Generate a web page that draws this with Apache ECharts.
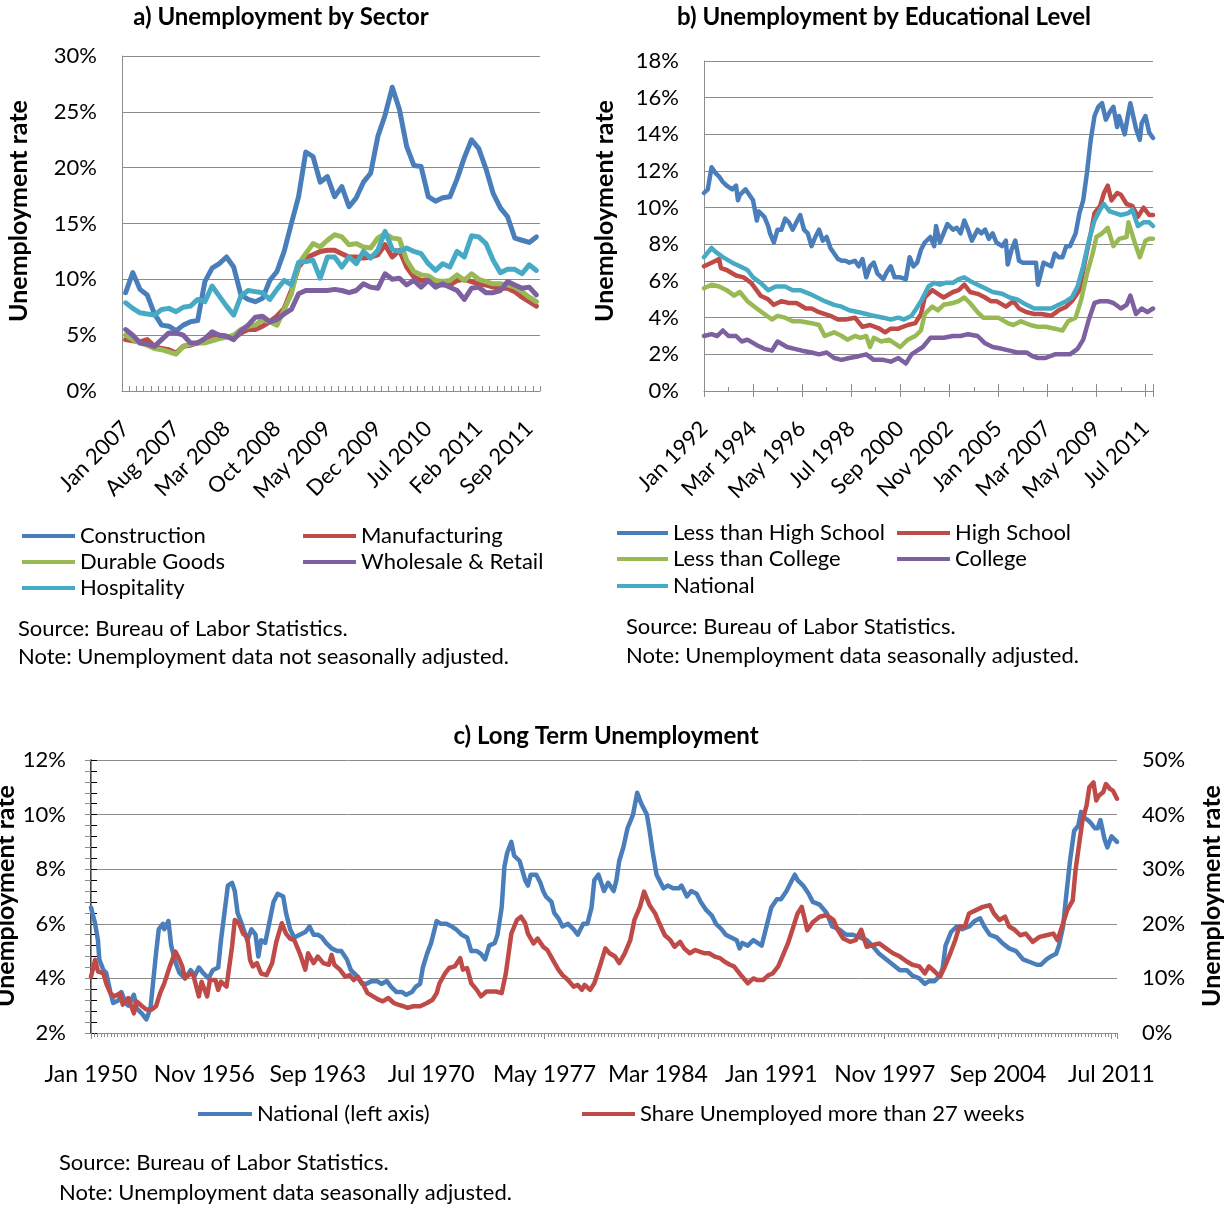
<!DOCTYPE html>
<html><head><meta charset="utf-8">
<script src="https://cdn.jsdelivr.net/npm/echarts@6.0.0/dist/echarts.min.js"></script>
<style>html,body{margin:0;padding:0;background:#fff}#c{width:1227px;height:1207px}</style>
</head><body><div id="c"></div><script>
// ---------- Panel a: Unemployment by Sector (monthly, Jan 2007 - Oct 2011) ----------
const monthNames = ['Jan','Feb','Mar','Apr','May','Jun','Jul','Aug','Sep','Oct','Nov','Dec'];
const sectorMonths = [];
for (let k = 0; k < 58; k++) sectorMonths.push(monthNames[k % 12] + ' ' + (2007 + Math.floor(k / 12)));

const construction = [8.8,10.6,9.1,8.6,6.9,5.9,5.8,5.4,5.9,6.2, 6.3,9.8,11.0,11.4,12.0,11.1,8.6,8.2,8.0,8.3, 9.9,10.7,12.5,15.0,17.4,21.4,21.0,18.7,19.2,17.4, 18.3,16.5,17.3,18.7,19.5,22.8,24.7,27.2,25.2,21.9, 20.2,20.1,17.4,17.0,17.3,17.4,19.0,20.9,22.5,21.7, 19.9,17.7,16.4,15.6,13.7,13.5,13.3,13.8];
const manufacturing = [4.6,4.5,4.4,4.6,4.0,3.8,3.7,3.4,4.0,4.1, 4.3,4.6,5.0,5.0,4.9,4.7,5.2,5.5,5.5,5.8, 6.2,6.7,7.4,9.0,11.1,11.9,12.2,12.5,12.6,12.6, 12.3,12.0,12.0,11.9,12.0,12.2,13.1,12.0,12.6,11.1, 10.2,9.9,9.9,9.6,9.5,9.5,9.9,10.0,9.8,9.6, 9.5,9.3,9.2,9.2,8.9,8.4,8.0,7.6];
const durableGoods = [5.0,4.6,4.3,4.1,3.8,3.7,3.5,3.3,4.0,4.2, 4.3,4.3,4.5,4.7,4.8,5.0,5.5,5.8,5.9,6.4, 6.2,5.9,7.3,8.7,11.4,12.3,13.2,12.9,13.5,14.0, 13.8,13.1,13.2,12.9,12.8,13.7,14.1,13.7,13.6,11.7, 10.7,10.4,10.3,9.9,9.8,9.9,10.4,9.9,10.5,10.0, 9.8,9.6,9.6,9.5,9.3,8.9,8.4,8.0];
const wholesaleRetail = [5.5,5.0,4.3,4.2,4.0,4.6,5.2,5.2,5.0,4.3, 4.3,4.7,5.3,5.0,4.9,4.6,5.4,5.9,6.6,6.7, 6.2,6.4,6.9,7.3,8.7,9.0,9.0,9.0,9.0,9.1, 9.0,8.8,9.0,9.6,9.3,9.2,10.5,10.0,10.1,9.5, 9.9,9.3,9.9,9.3,9.6,9.3,9.0,8.2,9.2,9.3, 8.8,8.8,9.0,9.8,9.5,9.2,9.3,8.6];
const hospitality = [7.9,7.4,7.0,6.9,6.8,7.3,7.4,7.1,7.5,7.6, 8.2,8.0,9.4,8.5,7.6,6.8,8.5,9.0,8.9,8.8, 8.2,9.1,9.9,9.5,11.5,11.6,11.7,10.1,12.0,12.0, 11.1,12.0,11.4,12.5,11.9,12.6,14.3,12.7,12.5,12.8, 12.5,12.3,11.4,10.8,11.4,11.1,12.5,12.0,13.9,13.8, 13.2,11.7,10.6,10.9,10.9,10.5,11.3,10.8];

// ---------- Panel b: by Educational Level ([month index from Jan 1992, rate]) ----------
const eduTickLabels = ['Jan 1992','Mar 1994','May 1996','Jul 1998','Sep 2000','Nov 2002','Jan 2005','Mar 2007','May 2009','Jul 2011'];
const lessThanHS = [[0,10.8],[2,11.0],[3,10.9],[4,12.2],[6,11.9],[8,11.7],[10,11.4],[12,11.2],[15,11.0],[17,11.2],[18,10.4],[19,10.7],[22,11.0],[24,10.7],[26,10.4],[28,9.3],[29,9.8],[32,9.5],[34,9.0],[35,8.6],[37,8.1],[39,8.8],[41,8.8],[43,9.4],[45,9.2],[47,8.8],[49,9.2],[51,9.6],[53,8.8],[55,8.6],[57,7.9],[59,8.4],[61,8.8],[63,8.2],[65,8.4],[67,7.8],[69,7.5],[71,7.2],[73,7.1],[75,7.1],[77,7.0],[80,7.1],[82,6.8],[84,7.2],[86,6.2],[88,6.8],[90,7.0],[92,6.4],[95,6.1],[97,6.5],[99,6.8],[101,6.2],[102,6.3],[104,6.2],[107,6.1],[109,7.3],[111,6.8],[113,7.0],[115,7.7],[117,8.1],[120,8.4],[122,7.9],[123,9.0],[125,8.1],[127,8.6],[129,9.1],[132,8.8],[134,8.9],[136,8.6],[138,9.3],[140,8.8],[142,8.2],[145,8.8],[147,8.6],[149,8.8],[151,8.3],[153,8.6],[155,8.1],[158,7.9],[160,8.2],[161,6.9],[163,7.7],[165,8.2],[167,7.1],[169,7.0],[172,7.0],[174,7.0],[176,7.0],[177,5.8],[180,7.0],[181,7.1],[184,6.8],[186,7.5],[188,7.3],[190,7.3],[192,7.9],[194,7.9],[197,8.6],[199,9.7],[201,10.4],[203,11.9],[205,13.7],[207,15.0],[209,15.5],[211,15.7],[213,14.8],[215,15.2],[217,15.5],[219,14.4],[220,15.0],[223,14.0],[225,15.2],[226,15.7],[229,14.3],[231,13.7],[232,14.6],[234,15.0],[236,14.1],[238,13.8]];
const highSchool = [[0,6.8],[4,7.0],[8,7.2],[9,6.7],[12,6.6],[17,6.3],[21,6.2],[25,5.9],[30,5.2],[34,5.0],[37,4.7],[41,4.9],[45,4.8],[49,4.8],[54,4.5],[57,4.5],[61,4.3],[67,4.1],[71,3.9],[75,3.9],[80,4.0],[84,3.5],[88,3.6],[93,3.4],[96,3.2],[99,3.4],[103,3.4],[108,3.6],[112,3.7],[115,4.2],[117,5.1],[121,5.5],[124,5.3],[127,5.1],[132,5.4],[135,5.5],[138,5.8],[141,5.4],[145,5.3],[149,5.1],[152,4.9],[155,4.9],[160,4.6],[164,4.9],[167,4.5],[171,4.3],[175,4.2],[179,4.2],[184,4.1],[188,4.4],[192,4.6],[195,4.9],[199,5.5],[202,7.1],[205,8.6],[207,9.7],[210,10.1],[212,10.8],[214,11.2],[216,10.4],[219,10.8],[221,10.7],[224,10.2],[227,10.1],[230,9.5],[233,10.0],[236,9.6],[238,9.6]];
const lessThanCollege = [[0,5.6],[4,5.8],[8,5.7],[12,5.5],[16,5.2],[19,5.4],[23,4.9],[28,4.5],[32,4.2],[36,3.9],[39,4.1],[43,4.0],[47,3.8],[51,3.8],[57,3.7],[61,3.6],[64,3.0],[69,3.2],[73,3.0],[76,2.8],[80,3.0],[83,2.9],[86,3.0],[88,2.4],[90,2.9],[94,2.7],[98,2.8],[101,2.6],[104,2.4],[108,2.8],[112,3.0],[115,3.3],[117,4.2],[121,4.6],[124,4.4],[127,4.7],[132,4.8],[135,4.9],[138,5.1],[141,4.8],[145,4.3],[148,4.0],[152,4.0],[156,4.0],[161,3.7],[164,3.6],[168,3.8],[173,3.6],[177,3.5],[181,3.5],[186,3.4],[190,3.3],[193,3.8],[197,4.0],[200,5.0],[203,6.4],[206,7.5],[208,8.4],[211,8.6],[214,8.9],[217,7.9],[220,8.3],[224,8.4],[225,9.2],[228,8.2],[231,7.3],[234,8.2],[236,8.3],[238,8.3]];
const college = [[0,3.0],[4,3.1],[7,3.0],[10,3.3],[13,3.0],[17,3.0],[20,2.7],[23,2.8],[28,2.5],[32,2.3],[36,2.2],[39,2.7],[44,2.4],[48,2.3],[52,2.2],[57,2.1],[61,2.0],[65,2.1],[69,1.8],[73,1.7],[77,1.8],[82,1.9],[86,2.0],[90,1.7],[95,1.7],[99,1.6],[103,1.8],[107,1.5],[110,2.0],[113,2.2],[116,2.4],[120,2.9],[123,2.9],[127,2.9],[132,3.0],[136,3.0],[140,3.1],[145,3.0],[149,2.6],[153,2.4],[158,2.3],[162,2.2],[166,2.1],[171,2.1],[174,1.9],[177,1.8],[181,1.8],[186,2.0],[190,2.0],[194,2.0],[198,2.3],[201,2.8],[204,3.9],[207,4.8],[210,4.9],[214,4.9],[217,4.8],[221,4.5],[224,4.7],[226,5.2],[229,4.2],[232,4.5],[235,4.3],[238,4.5]];
const nationalEdu = [[0,7.3],[4,7.8],[6,7.6],[10,7.3],[15,7.0],[19,6.8],[23,6.6],[26,6.2],[30,5.9],[34,5.5],[38,5.7],[43,5.7],[47,5.5],[51,5.5],[56,5.3],[60,5.1],[64,4.9],[69,4.7],[73,4.6],[77,4.4],[82,4.3],[86,4.2],[90,4.1],[95,4.0],[99,3.9],[103,4.0],[106,3.9],[110,4.1],[112,4.4],[115,4.9],[119,5.7],[122,5.9],[125,5.8],[128,5.9],[132,5.9],[135,6.1],[138,6.2],[141,6.0],[145,5.8],[149,5.6],[153,5.4],[158,5.3],[162,5.1],[166,5.0],[171,4.7],[175,4.5],[179,4.5],[184,4.5],[188,4.7],[192,4.9],[195,5.1],[198,5.7],[201,6.8],[204,8.2],[207,9.3],[210,9.9],[212,10.2],[215,9.8],[218,9.7],[221,9.6],[225,9.7],[227,9.9],[230,9.0],[233,9.2],[236,9.2],[238,9.0]];

// ---------- Panel c: Long Term Unemployment ([month index from Jan 1950, rate]) ----------
const ltTickLabels = ['Jan 1950','Nov 1956','Sep 1963','Jul 1970','May 1977','Mar 1984','Jan 1991','Nov 1997','Sep 2004','Jul 2011'];
const nationalLT = [[0,6.6],[3,6.0],[5,5.4],[6,4.7],[9,4.3],[11,4.2],[14,3.5],[16,3.1],[20,3.2],[22,3.5],[25,3.1],[27,3.0],[31,3.4],[33,2.9],[37,2.7],[40,2.5],[43,2.9],[45,3.9],[47,4.9],[49,5.8],[52,6.0],[53,5.8],[56,6.1],[58,5.2],[61,4.6],[64,4.2],[68,4.0],[72,4.3],[75,4.1],[78,4.4],[81,4.2],[85,4.0],[88,4.3],[92,4.4],[94,5.4],[97,6.6],[99,7.4],[102,7.5],[104,7.2],[106,6.4],[109,6.0],[113,5.4],[116,5.8],[119,5.6],[121,4.8],[123,5.4],[126,5.3],[128,5.8],[132,6.8],[135,7.1],[139,7.0],[141,6.4],[144,5.8],[147,5.5],[151,5.6],[155,5.7],[158,5.9],[161,5.6],[164,5.6],[167,5.5],[170,5.3],[174,5.1],[178,5.0],[181,5.0],[185,4.7],[188,4.3],[192,4.1],[196,3.8],[199,3.8],[203,3.9],[207,3.9],[210,3.8],[214,3.9],[217,3.7],[221,3.5],[225,3.5],[228,3.4],[232,3.5],[235,3.7],[238,3.8],[240,4.4],[243,4.9],[246,5.3],[250,6.1],[253,6.0],[257,6.0],[261,5.9],[264,5.8],[268,5.6],[272,5.5],[275,5.0],[279,5.0],[282,4.9],[285,4.7],[288,5.2],[292,5.3],[294,5.6],[297,6.6],[299,8.1],[301,8.6],[304,9.0],[306,8.5],[310,8.3],[314,7.6],[316,7.4],[318,7.8],[322,7.8],[325,7.5],[327,7.2],[329,7.0],[333,6.8],[335,6.4],[338,6.2],[341,5.9],[345,6.0],[349,5.8],[352,5.6],[356,6.0],[359,6.0],[362,6.6],[364,7.6],[367,7.8],[369,7.5],[371,7.2],[374,7.5],[378,7.2],[380,7.6],[382,8.3],[385,8.8],[388,9.5],[392,10.0],[395,10.8],[398,10.4],[402,10.0],[404,9.4],[406,8.7],[409,7.8],[411,7.6],[414,7.3],[417,7.4],[421,7.3],[425,7.3],[427,7.4],[431,7.0],[434,7.2],[438,7.1],[441,6.8],[445,6.5],[449,6.3],[452,6.0],[456,5.8],[459,5.6],[463,5.5],[467,5.4],[469,5.1],[471,5.3],[475,5.2],[479,5.4],[482,5.3],[485,5.2],[487,5.6],[490,6.2],[492,6.6],[496,6.9],[499,6.9],[503,7.2],[506,7.5],[509,7.8],[511,7.6],[515,7.4],[519,7.1],[522,6.8],[527,6.7],[532,6.4],[536,5.9],[541,5.8],[546,5.6],[551,5.6],[556,5.5],[561,5.4],[565,5.2],[570,4.9],[575,4.7],[580,4.5],[585,4.3],[590,4.3],[594,4.1],[599,4.0],[603,3.8],[606,3.9],[610,3.9],[614,4.1],[616,4.4],[618,5.2],[622,5.7],[626,5.9],[630,5.8],[635,5.9],[639,6.1],[643,6.2],[646,5.9],[650,5.6],[655,5.5],[659,5.3],[664,5.1],[669,5.0],[674,4.7],[679,4.6],[684,4.5],[687,4.5],[691,4.7],[694,4.8],[698,4.9],[700,5.2],[703,5.9],[705,6.9],[708,8.3],[711,9.4],[714,9.6],[716,10.1],[718,9.9],[721,9.8],[723,9.7],[726,9.5],[728,9.5],[730,9.8],[733,9.1],[735,8.8],[738,9.2],[742,9.0]];
const shareLT = [[0,10.3],[3,13.4],[5,11.3],[9,10.9],[11,9.1],[14,7.3],[17,6.7],[21,7.3],[23,5.2],[27,6.4],[31,3.6],[33,5.8],[37,4.9],[40,4.3],[44,4.3],[47,4.9],[50,7.3],[53,9.1],[57,12.2],[61,14.9],[63,14.0],[66,12.2],[68,10.0],[72,10.9],[74,10.6],[78,6.7],[80,9.4],[84,6.7],[86,9.7],[90,9.7],[92,7.9],[94,9.4],[98,8.5],[102,15.8],[104,20.7],[107,20.1],[110,18.2],[113,17.6],[115,13.4],[117,12.2],[120,12.8],[123,10.9],[127,10.6],[131,12.8],[134,16.7],[138,20.1],[141,18.2],[144,17.3],[147,17.0],[151,14.6],[155,11.6],[157,14.6],[161,12.8],[164,14.0],[168,12.8],[172,12.5],[174,14.3],[176,12.5],[180,11.6],[184,10.3],[187,10.6],[190,9.7],[193,10.3],[197,8.8],[200,7.3],[204,6.7],[208,6.1],[211,5.8],[215,6.4],[219,5.5],[222,5.2],[226,4.9],[229,4.6],[233,4.9],[238,4.9],[243,5.5],[247,6.1],[250,7.3],[252,9.1],[256,10.9],[259,11.9],[263,12.2],[267,13.7],[269,11.6],[272,11.9],[275,9.1],[279,7.9],[282,6.7],[286,7.6],[290,7.6],[293,7.6],[297,7.3],[300,10.9],[304,18.2],[308,20.7],[311,21.3],[314,20.1],[316,18.2],[320,16.4],[323,17.3],[327,15.8],[330,15.2],[334,13.4],[338,11.6],[341,10.6],[345,9.7],[349,8.5],[352,8.8],[355,7.9],[357,8.8],[361,7.9],[364,9.1],[368,12.2],[372,15.5],[375,14.6],[379,14.0],[382,12.8],[386,14.6],[390,17.0],[393,20.7],[397,23.1],[400,25.9],[404,23.4],[408,21.9],[411,20.1],[415,17.9],[419,17.0],[422,15.8],[426,16.7],[429,15.5],[433,14.6],[437,15.2],[440,14.9],[444,14.6],[447,14.6],[451,14.0],[455,13.7],[458,13.1],[462,12.5],[465,12.2],[469,10.9],[473,9.7],[475,9.1],[479,10.0],[482,9.7],[486,9.7],[490,10.6],[493,10.9],[497,12.2],[500,14.0],[504,16.4],[508,19.5],[511,21.9],[514,23.1],[516,21.0],[518,18.8],[522,20.3],[527,21.3],[532,21.6],[537,20.7],[540,18.9],[544,17.3],[549,16.7],[553,17.0],[557,18.9],[561,15.8],[565,16.1],[570,16.4],[575,15.5],[580,14.6],[585,14.0],[590,13.1],[594,12.5],[599,12.2],[603,10.9],[606,12.2],[610,11.3],[614,10.3],[617,11.9],[621,14.3],[625,17.0],[628,19.5],[632,19.5],[635,21.9],[640,22.5],[645,23.1],[650,23.4],[653,21.9],[657,20.7],[661,21.3],[664,19.5],[668,18.9],[672,17.9],[676,18.2],[681,16.7],[686,17.6],[691,17.9],[696,18.2],[699,17.0],[703,20.1],[706,22.5],[710,24.3],[712,29.8],[715,35.3],[717,38.9],[720,41.7],[722,45.0],[725,45.9],[727,42.6],[729,43.5],[732,44.1],[734,45.6],[737,44.7],[739,44.4],[742,42.9]];

// ---------- styling ----------
const FONT = 'Lato';
const C = {blue:'#4A7EBB', red:'#BE4B48', green:'#98B954', purple:'#7D60A0', cyan:'#46AAC5'};
const GRID = '#8C8C8C';
const txt = {fontFamily: FONT, fontSize: 22, color: '#000'};

function lineSeries(name, data, color, xi, yi, w) {
  return {name, type:'line', data, xAxisIndex:xi, yAxisIndex:yi, symbol:'none', silent:true,
    lineStyle:{color, width:w, cap:'round', join:'round'}, itemStyle:{color}, animation:false};
}
function legendItem(name, left, top, w) {
  return {data:[name], left, top, itemWidth:w, itemHeight:4, icon:'rect', padding:0, itemGap:0,
    selectedMode:false, textStyle:Object.assign({}, txt, {padding:[0,0,0,0]})};
}
function gtext(text, x, y, opts) {
  return Object.assign({type:'text', x, y, silent:true,
    style:Object.assign({text, fill:'#000', font:'22px ' + FONT, textAlign:'left', textVerticalAlign:'middle'}, opts && opts.style)},
    opts && opts.rotation !== undefined ? {rotation: opts.rotation} : {});
}

const chart = echarts.init(document.getElementById('c'), null, {renderer:'canvas'});
chart.setOption({
  animation:false,
  backgroundColor:'#fff',
  grid:[
    {left:122, top:56, width:418, height:335},
    {left:704, top:61, width:449, height:330},
    {left:91, top:760, width:1026, height:273}
  ],
  xAxis:[
    {type:'category', gridIndex:0, position:'bottom', data:sectorMonths, boundaryGap:true,
      axisLine:{lineStyle:{color:GRID, width:1}},
      axisTick:{show:true, inside:true, interval:0, length:5, lineStyle:{color:GRID}},
      axisLabel:Object.assign({}, txt, {interval:6, rotate:45, margin:34})},
    {type:'value', gridIndex:1, position:'bottom', min:0, max:238, interval:26,
      axisLine:{lineStyle:{color:GRID, width:1}}, splitLine:{show:false},
      axisTick:{show:true, inside:false, length:6, lineStyle:{color:GRID}},
      axisLabel:Object.assign({}, txt, {rotate:45, margin:34,
        formatter:v => (v % 26 === 0 ? (eduTickLabels[v/26] || '') : '')})},
    {type:'value', gridIndex:1, position:'bottom', min:0, max:238, interval:26,
      axisLine:{show:false}, splitLine:{show:false}, axisLabel:{show:false},
      axisTick:{show:true, inside:true, length:7, lineStyle:{color:GRID}},
      minorTick:{show:true, splitNumber:2, length:4, lineStyle:{color:GRID}}},
    {type:'value', gridIndex:2, position:'bottom', min:0, max:742, interval:82,
      axisLine:{lineStyle:{color:GRID, width:1}}, splitLine:{show:false},
      axisTick:{show:true, inside:false, length:6, lineStyle:{color:GRID}},
      axisLabel:Object.assign({}, txt, {fontSize:23, margin:30,
        formatter:v => (v % 82 === 0 ? (ltTickLabels[v/82] || '') : '')})},
    {type:'value', gridIndex:2, position:'bottom', min:0, max:742, interval:82,
      axisLine:{show:false}, splitLine:{show:false}, axisLabel:{show:false},
      axisTick:{show:false},
      minorTick:{show:true, splitNumber:34, length:4, lineStyle:{color:GRID}}}
  ],
  yAxis:[
    {type:'value', gridIndex:0, min:0, max:30, interval:5,
      axisLine:{show:true, lineStyle:{color:GRID}}, axisTick:{show:false},
      splitLine:{lineStyle:{color:GRID, width:1}},
      axisLabel:Object.assign({}, txt, {margin:25, formatter:'{value}%'})},
    {type:'value', gridIndex:1, min:0, max:18, interval:2,
      axisLine:{show:true, lineStyle:{color:GRID}}, axisTick:{show:false},
      splitLine:{lineStyle:{color:GRID, width:1}},
      axisLabel:Object.assign({}, txt, {margin:25, formatter:'{value}%'})},
    {type:'value', gridIndex:2, min:2, max:12, interval:2, position:'left',
      axisLine:{show:true, lineStyle:{color:'#000', width:1.5}},
      axisTick:{show:true, inside:true, length:6, lineStyle:{color:'#000'}},
      minorTick:{show:true, splitNumber:5, length:6, lineStyle:{color:'#000'}},
      splitLine:{lineStyle:{color:GRID, width:1}},
      axisLabel:Object.assign({}, txt, {margin:25, formatter:'{value}%'})},
    {type:'value', gridIndex:2, min:0, max:50, interval:10, position:'right',
      axisLine:{show:true, lineStyle:{color:GRID, width:1}},
      axisTick:{show:true, inside:true, length:6, lineStyle:{color:GRID}},
      minorTick:{show:true, splitNumber:5, length:6, lineStyle:{color:GRID}},
      splitLine:{show:false},
      axisLabel:Object.assign({}, txt, {margin:25, formatter:'{value}%'})}
  ],
  legend:[
    legendItem('Construction', 22, 525, 53),
    legendItem('Manufacturing', 303, 525, 53),
    legendItem('Durable Goods', 22, 551, 53),
    legendItem('Wholesale & Retail', 303, 551, 53),
    legendItem('Hospitality', 22, 577, 53),
    legendItem('Less than High School', 617, 522, 51),
    legendItem('High School', 897, 522, 53),
    legendItem('Less than College', 617, 548, 51),
    legendItem('College', 897, 548, 53),
    legendItem('National', 617, 575, 51),
    legendItem('National (left axis)', 198, 1103, 54),
    legendItem('Share Unemployed more than 27 weeks', 582, 1103, 53)
  ],
  series:[
    lineSeries('Construction', construction, C.blue, 0, 0, 5),
    lineSeries('Manufacturing', manufacturing, C.red, 0, 0, 5),
    lineSeries('Durable Goods', durableGoods, C.green, 0, 0, 5),
    lineSeries('Wholesale & Retail', wholesaleRetail, C.purple, 0, 0, 5),
    lineSeries('Hospitality', hospitality, C.cyan, 0, 0, 5),
    lineSeries('Less than High School', lessThanHS, C.blue, 1, 1, 4.5),
    lineSeries('High School', highSchool, C.red, 1, 1, 4.5),
    lineSeries('Less than College', lessThanCollege, C.green, 1, 1, 4.5),
    lineSeries('College', college, C.purple, 1, 1, 4.5),
    lineSeries('National', nationalEdu, C.cyan, 1, 1, 4.5),
    lineSeries('National (left axis)', nationalLT, C.blue, 3, 2, 4.5),
    lineSeries('Share Unemployed more than 27 weeks', shareLT, C.red, 3, 3, 4.5)
  ],
  graphic:[
    gtext('a) Unemployment by Sector', 281, 17, {style:{font:'bold 24px ' + FONT, textAlign:'center'}}),
    gtext('b) Unemployment by Educational Level', 884, 17, {style:{font:'bold 24px ' + FONT, textAlign:'center'}}),
    gtext('c) Long Term Unemployment', 606, 736, {style:{font:'bold 24px ' + FONT, textAlign:'center'}}),
    gtext('Unemployment rate', 19, 211, {rotation:Math.PI/2, style:{font:'bold 25px ' + FONT, textAlign:'center'}}),
    gtext('Unemployment rate', 605, 211, {rotation:Math.PI/2, style:{font:'bold 25px ' + FONT, textAlign:'center'}}),
    gtext('Unemployment rate', 6, 896, {rotation:Math.PI/2, style:{font:'bold 25px ' + FONT, textAlign:'center'}}),
    gtext('Unemployment rate', 1212, 896, {rotation:Math.PI/2, style:{font:'bold 25px ' + FONT, textAlign:'center'}}),
    gtext('Source: Bureau of Labor Statistics.', 18, 629),
    gtext('Note: Unemployment data not seasonally adjusted.', 18, 657),
    gtext('Source: Bureau of Labor Statistics.', 626, 627),
    gtext('Note: Unemployment data seasonally adjusted.', 626, 656),
    gtext('Source: Bureau of Labor Statistics.', 59, 1163),
    gtext('Note: Unemployment data seasonally adjusted.', 59, 1193)
  ]
});
</script></body></html>
